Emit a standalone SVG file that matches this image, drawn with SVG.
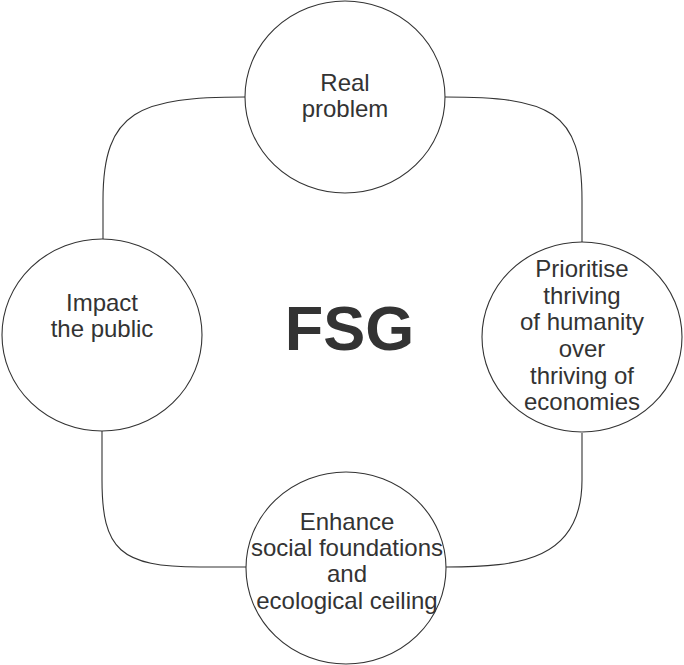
<svg xmlns="http://www.w3.org/2000/svg" width="684" height="665" viewBox="0 0 684 665">
<style>
.node{fill:#fff;stroke:#333;stroke-width:1.1}
.conn{fill:none;stroke:#333;stroke-width:1.1}
.lbl{font-family:"Liberation Sans",Arial,sans-serif;font-size:24px;fill:#333;text-anchor:middle}
.title{font-family:"Liberation Sans",Arial,sans-serif;font-size:63px;font-weight:bold;fill:#333;text-anchor:middle}
</style>
<rect width="684" height="665" fill="#fff"/>
<g id="connectors">
<path class="conn" d="M245,97 C140,97 103,110 103,200 V239"/>
<path class="conn" d="M445,97 C550,97 582,110 582,200 V242"/>
<path class="conn" d="M102,430 V480 C102,550 120,567 200,567 H246"/>
<path class="conn" d="M446,567 C520,567 582,560 582,480 V433"/>
</g>
<g id="node-real-problem">
<ellipse class="node" cx="345" cy="97" rx="100" ry="96"/>
<text class="lbl" x="345" y="91">Real</text>
<text class="lbl" x="345" y="117">problem</text>
</g>
<g id="node-prioritise">
<ellipse class="node" cx="582" cy="337" rx="100" ry="95"/>
<text class="lbl" x="582" y="277">Prioritise</text>
<text class="lbl" x="582" y="303.5">thriving</text>
<text class="lbl" x="582" y="330">of humanity</text>
<text class="lbl" x="582" y="356.8">over</text>
<text class="lbl" x="582" y="383.5">thriving of</text>
<text class="lbl" x="582" y="410.3">economies</text>
</g>
<g id="node-impact">
<ellipse class="node" cx="102" cy="335" rx="100" ry="96"/>
<text class="lbl" x="102" y="311">Impact</text>
<text class="lbl" x="102" y="337">the public</text>
</g>
<g id="node-enhance">
<ellipse class="node" cx="346" cy="568" rx="100" ry="96"/>
<text class="lbl" x="347" y="530">Enhance</text>
<text class="lbl" x="347" y="556">social foundations</text>
<text class="lbl" x="347" y="582">and</text>
<text class="lbl" x="347" y="608.5">ecological ceiling</text>
</g>
<g id="title">
<text class="title" x="349.5" y="350">FSG</text>
</g>
</svg>
